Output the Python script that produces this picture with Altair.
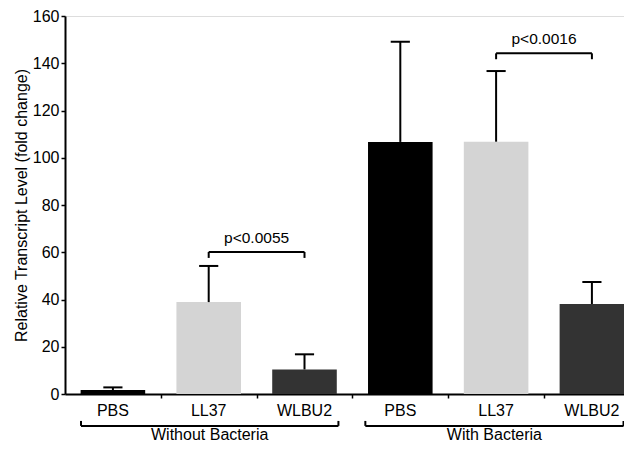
import altair as alt
import pandas as pd

# ---- data ----
treatments = ["PBS", "LL37", "WLBU2", "PBS", "LL37", "WLBU2"]
conditions = ["Without Bacteria"] * 3 + ["With Bacteria"] * 3
means = [1.7, 38.9, 10.4, 106.7, 106.8, 38.1]
upper = [2.8, 54.2, 16.8, 149.1, 136.7, 47.4]
bar_colors = ["#000000", "#d4d4d4", "#333333", "#000000", "#d4d4d4", "#333333"]

sig_from = [1, 4]
sig_to = [2, 5]
sig_level = [60.1, 144.2]
sig_labels = ["p<0.0055", "p<0.0016"]

group_names = ["Without Bacteria", "With Bacteria"]
group_from = [-0.333, 2.635]
group_to = [2.354, 5.33]
group_level = [-13.5, -13.5]

FONT = "Liberation Sans"

df = pd.DataFrame({
    "pos": list(range(len(treatments))),
    "treatment": treatments,
    "condition": conditions,
    "mean": means,
    "upper": upper,
    "color": bar_colors,
})
sig_df = pd.DataFrame({"x1": sig_from, "x2": sig_to, "y": sig_level, "label": sig_labels})
grp_df = pd.DataFrame({"x1": group_from, "x2": group_to, "y": group_level, "label": group_names})

xscale = alt.Scale(domain=[-0.5, 5.335], nice=False, zero=False, padding=0)
yscale = alt.Scale(domain=[0, 160], nice=False, zero=True, padding=0)

xaxis = alt.Axis(values=[0.5, 1.5, 2.5, 3.5, 4.5], labels=False, title=None, grid=False,
                 tickSize=4, tickColor="black", tickWidth=1.5,
                 domainColor="black", domainWidth=2)
yaxis = alt.Axis(values=list(range(0, 161, 20)), title="Relative Transcript Level (fold change)",
                 grid=False, tickSize=4, tickColor="black", tickWidth=1.5,
                 domainColor="black", domainWidth=2, labelPadding=2,
                 labelFont=FONT, labelFontSize=16, labelColor="black",
                 titleFont=FONT, titleFontSize=16, titleFontWeight="normal",
                 titleColor="black", titlePadding=3)

base = alt.Chart(df).transform_calculate(
    b1="datum.pos - 0.337", b2="datum.pos + 0.337",
    c1="datum.pos - 0.1", c2="datum.pos + 0.1",
)

bars = base.mark_bar().encode(
    x=alt.X("b1:Q", scale=xscale, axis=xaxis),
    x2="b2:Q",
    y=alt.Y("mean:Q", scale=yscale, axis=yaxis),
    y2=alt.datum(0),
    color=alt.Color("color:N", scale=None),
)

whisker = base.mark_rule(color="black", strokeWidth=2).encode(
    x=alt.X("pos:Q", scale=xscale), y=alt.Y("mean:Q", scale=yscale), y2="upper:Q"
)
cap = base.mark_rule(color="black", strokeWidth=2).encode(
    x=alt.X("c1:Q", scale=xscale), x2="c2:Q", y=alt.Y("upper:Q", scale=yscale)
)

cat_labels = base.mark_text(font=FONT, fontSize=16, color="black",
                            baseline="alphabetic", dy=22).encode(
    x=alt.X("pos:Q", scale=xscale), y=alt.datum(0), text="treatment:N"
)

# significance brackets
sig_base = alt.Chart(sig_df).transform_calculate(lo="datum.y - 2.5", mid="(datum.x1 + datum.x2) / 2")
sig_h = sig_base.mark_rule(color="black", strokeWidth=2).encode(
    x=alt.X("x1:Q", scale=xscale), x2="x2:Q", y=alt.Y("y:Q", scale=yscale)
)
sig_l = sig_base.mark_rule(color="black", strokeWidth=2).encode(
    x=alt.X("x1:Q", scale=xscale), y=alt.Y("lo:Q", scale=yscale), y2="y:Q"
)
sig_r = sig_base.mark_rule(color="black", strokeWidth=2).encode(
    x=alt.X("x2:Q", scale=xscale), y=alt.Y("lo:Q", scale=yscale), y2="y:Q"
)
sig_t = sig_base.mark_text(font=FONT, fontSize=15.5, color="black",
                           baseline="alphabetic", dy=-9).encode(
    x=alt.X("mid:Q", scale=xscale), y=alt.Y("y:Q", scale=yscale), text="label:N"
)

# group brackets under the axis
grp_base = alt.Chart(grp_df).transform_calculate(hi="datum.y + 2.1", mid="(datum.x1 + datum.x2) / 2")
grp_h = grp_base.mark_rule(color="black", strokeWidth=2).encode(
    x=alt.X("x1:Q", scale=xscale), x2="x2:Q", y=alt.Y("y:Q", scale=yscale)
)
grp_l = grp_base.mark_rule(color="black", strokeWidth=2).encode(
    x=alt.X("x1:Q", scale=xscale), y=alt.Y("y:Q", scale=yscale), y2="hi:Q"
)
grp_r = grp_base.mark_rule(color="black", strokeWidth=2).encode(
    x=alt.X("x2:Q", scale=xscale), y=alt.Y("y:Q", scale=yscale), y2="hi:Q"
)
grp_t = grp_base.mark_text(font=FONT, fontSize=16, color="black",
                           baseline="alphabetic", dy=14).encode(
    x=alt.X("mid:Q", scale=xscale), y=alt.Y("y:Q", scale=yscale), text="label:N"
)

chart = alt.layer(
    bars, whisker, cap, cat_labels,
    sig_h, sig_l, sig_r, sig_t,
    grp_h, grp_l, grp_r, grp_t,
).properties(
    width=559, height=378,
    padding={"left": 57, "top": 8, "right": 0, "bottom": 50},
    autosize=alt.AutoSizeParams(type="none"),
).configure_view(stroke=None).configure(background="white")

chart.save("out.html", embed_options={"renderer": "svg", "actions": False})
